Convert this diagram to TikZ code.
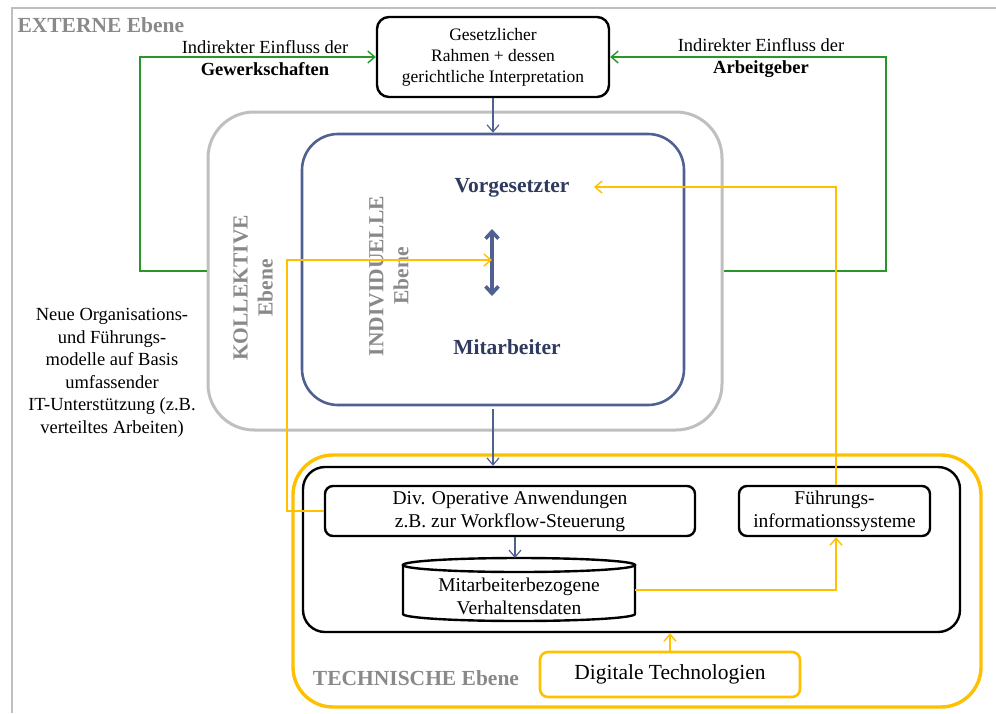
\documentclass[tikz,border=0pt]{standalone}
\usepackage{fontspec}
\setmainfont{Liberation Serif}
\usetikzlibrary{arrows.meta,calc}
\definecolor{framegray}{HTML}{BFBFBF}
\definecolor{lblgray}{HTML}{898989}
\definecolor{grn}{RGB}{40,150,40}
\definecolor{indblue}{RGB}{79,96,145}
\definecolor{navy}{RGB}{47,58,94}
\definecolor{gold}{HTML}{FFC000}
\begin{document}
\begin{tikzpicture}[x=1pt,y=-1pt,
  box/.style={draw, rounded corners=#1, inner sep=0pt, align=center},
  txt/.style={font=\fontsize{18.5}{22.5}\selectfont, align=center},
  smalltxt/.style={font=\fontsize{17.5}{21}\selectfont, align=center},
  techtxt/.style={font=\fontsize{19.5}{23}\selectfont, align=center},
  lvl/.style={font=\fontsize{21.5}{25}\selectfont\bfseries, text=lblgray, align=center},
  person/.style={font=\fontsize{21.5}{25}\selectfont\bfseries, text=navy},
  barb/.style={-{Straight Barb[length=7pt,width=12pt]}},
  gline/.style={grn, line width=1.4pt, barb},
  yline/.style={gold, line width=1.4pt, barb},
  bline/.style={indblue, line width=1.2pt, barb},
  darr/.style={{Straight Barb[length=7pt,width=13pt,line width=3.6pt]}-{Straight Barb[length=7pt,width=13pt,line width=3.6pt]}}]
\useasboundingbox (0,0) rectangle (996,713);

% outer frame of the external level
\draw[framegray, line width=2pt] (12,713) -- (12,8) -- (996,8);
\node[lvl, anchor=west] (ext) at (14,25) {EXTERNE Ebene};

% legal framework
\node[box=12, line width=2.4pt, minimum width=232, minimum height=80, smalltxt] (ges) at (493,57)
  {Gesetzlicher\\Rahmen + dessen\\gerichtliche Interpretation};
\node[txt] (gew) at (265,58) {Indirekter Einfluss der\\\textbf{Gewerkschaften}};
\node[txt] (arb) at (761,58) {Indirekter Einfluss der\\\textbf{Arbeitgeber}};

% collective and individual levels
\node[box=46, draw=framegray, line width=3pt, minimum width=514, minimum height=318] (koll) at (465,271) {};
\node[box=36, draw=indblue, line width=2.6pt, minimum width=382, minimum height=271] (ind) at (493,269.5) {};
\node[lvl, rotate=90] (kolltxt) at (253,288) {KOLLEKTIVE\\Ebene};
\node[lvl, rotate=90] (indtxt) at (389,276) {INDIVIDUELLE\\Ebene};
\node[person] (vorg) at (512,188) {Vorgesetzter};
\node[person] (mit) at (507,347) {Mitarbeiter};
\coordinate (dtop) at (492,229);
\coordinate (dbot) at (492,296);
\coordinate (dmid) at (492,260);
\coordinate (vtip) at (594,187);
\draw[indblue, line width=4.8pt, darr] (dtop) -- (dbot);

\node[txt] (neu) at (112,373) {Neue Organisations-\\und Führungs-\\modelle auf Basis\\umfassender\\IT-Unterstützung (z.B.\\verteiltes Arbeiten)};

% technical level
\node[box=40, draw=gold, line width=3.4pt, minimum width=688, minimum height=252] (techy) at (637,581) {};
\node[box=22, line width=2.4pt, minimum width=657, minimum height=165] (tech) at (631.5,549.5) {};
\node[lvl] (techtxt) at (416,678) {TECHNISCHE Ebene};
\node[box=8, line width=2.4pt, minimum width=370, minimum height=50, techtxt] (div) at (510,511)
  {Div. Operative Anwendungen\\z.B. zur Workflow-Steuerung};
\node[box=8, line width=2.4pt, minimum width=191, minimum height=50, techtxt] (fis) at (834.5,511)
  {Führungs-\\informationssysteme};
\node[box=8, draw=gold, line width=2.6pt, minimum width=260, minimum height=45,
  font=\fontsize{21.5}{25}\selectfont] (dig) at (670,674.5) {Digitale Technologien};

% database cylinder
\node[techtxt, minimum width=232, minimum height=63, inner sep=0pt] (db) at (519,596)
  {Mitarbeiterbezogene\\Verhaltensdaten};
\coordinate (dbtop) at (515,558);
\draw[line width=2.4pt] (519,565) ellipse [x radius=116, y radius=7];
\draw[line width=2.4pt] (403,565) -- (403,614) arc[start angle=180, end angle=360, x radius=116, y radius=-7] -- (635,565);

% green influence paths
\draw[gline] (koll.west) -- (140,271) |- (ges.west);
\draw[gline] (koll.east) -- (886,271) |- (ges.east);

% blue flows
\draw[bline] (ges.south) -- (ind.north);
\draw[bline, shorten <=3pt] (ind.south) -- (tech.north -| ind.south);
\draw[bline] (div.south -| dbtop) -- (dbtop);

% yellow flows
\draw[yline] (div.west) -- ++(-37,0) |- (dmid);
\draw[yline] (fis.north -| 836,0) |- (vtip);
\draw[yline] (db.east |- 0,590) -| (fis.south -| 836,0);
\draw[yline] (dig.north) -- (tech.south -| dig.north);
\end{tikzpicture}
\end{document}
